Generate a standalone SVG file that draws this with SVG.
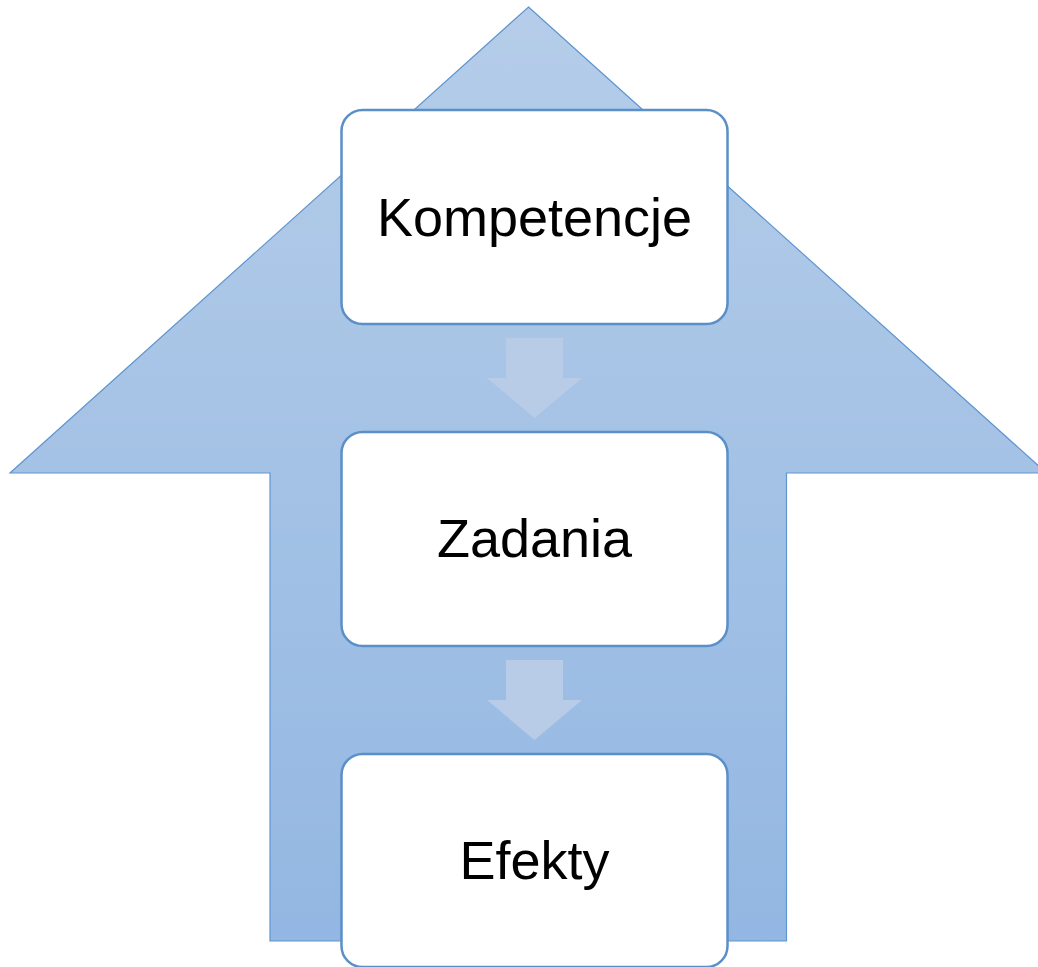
<svg xmlns="http://www.w3.org/2000/svg" width="1038" height="967" viewBox="0 0 1038 967">
<defs>
<linearGradient id="g" x1="0" y1="0" x2="0" y2="1">
<stop offset="0" stop-color="#b5cde9"/>
<stop offset="1" stop-color="#93b7e2"/>
</linearGradient>
<style>
.box{fill:#ffffff;stroke:#5a8fc8;stroke-width:2.5}
.lbl{font-family:"Liberation Sans",Arial,sans-serif;font-size:54px;fill:#000;text-anchor:middle}
.conn{fill:#b8cce8;stroke:none}
</style>
</defs>
<g id="background-arrow">
<polygon points="528.5,7 1046.5,473 786.5,473 786.5,941 270,941 270,473 10,473" fill="url(#g)" stroke="#5f95d0" stroke-width="1.2"/>
</g>
<g id="connectors">
<polygon class="conn" points="506,338 563,338 563,378 582,378 534.5,418 487,378 506,378"/>
<polygon class="conn" points="506,660 563,660 563,700 582,700 534.5,740 487,700 506,700"/>
</g>
<g id="node-kompetencje">
<rect class="box" x="341.5" y="110" width="386" height="214" rx="21"/>
<text class="lbl" x="534.5" y="236">Kompetencje</text>
</g>
<g id="node-zadania">
<rect class="box" x="341.5" y="432" width="386" height="214" rx="21"/>
<text class="lbl" x="534.5" y="557">Zadania</text>
</g>
<g id="node-efekty">
<rect class="box" x="341.5" y="754" width="386" height="213" rx="21"/>
<text class="lbl" x="534.5" y="879">Efekty</text>
</g>
</svg>
